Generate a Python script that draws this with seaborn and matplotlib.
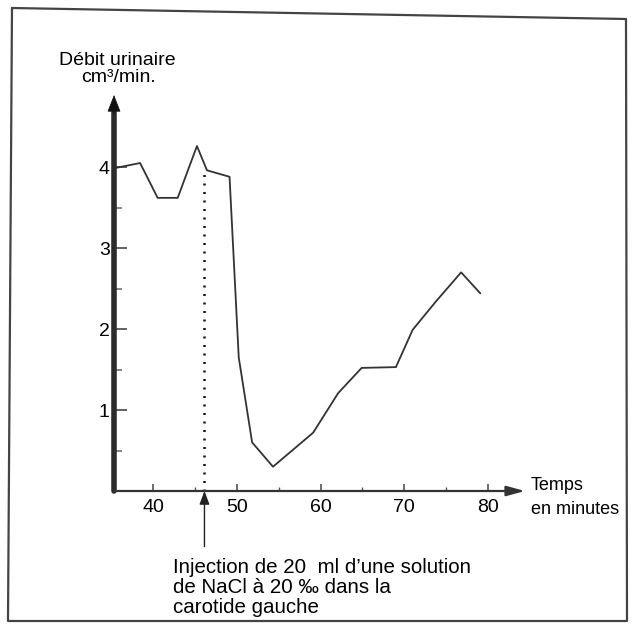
import matplotlib
matplotlib.use("Agg")
import matplotlib.pyplot as plt
import seaborn as sns
import pandas as pd
from matplotlib.lines import Line2D

# ---- data ----
time_min = [35.5, 38.4, 40.5, 42.9, 45.2, 46.4, 49.1, 50.2, 51.8, 54.3,
            59.1, 62.1, 64.9, 69.0, 71.0, 73.7, 76.8, 79.1]
flow = [3.99, 4.05, 3.62, 3.62, 4.26, 3.96, 3.88, 1.65, 0.60, 0.30,
        0.72, 1.21, 1.52, 1.53, 1.99, 2.33, 2.70, 2.44]
x_ticks = [40, 50, 60, 70, 80]
x_minor = [45, 55, 65, 75]
y_ticks = [1, 2, 3, 4]
y_minor = [0.5, 1.5, 2.5, 3.5]
injection_time = 46.1
injection_top = 3.96

y_title = ["Débit urinaire", "cm³/min."]
x_title = ["Temps", "en minutes"]
note = ["Injection de 20  ml d’une solution",
        "de NaCl à 20 ‰ dans la",
        "carotide gauche"]

sns.set_style("white")
plt.rcParams["font.family"] = ["Liberation Sans", "DejaVu Sans"]

W, H = 632, 625
fig = plt.figure(figsize=(W / 100, H / 100), dpi=100)
fig.patch.set_facecolor("white")

def fx(px):
    return px / W

def fy(py):
    return 1 - py / H

ax = fig.add_axes([fx(114), fy(491), fx(525) - fx(114), fy(95) - fy(491)])
ax.set_facecolor("none")

df = pd.DataFrame({"t": time_min, "q": flow})
sns.lineplot(data=df, x="t", y="q", ax=ax, color="#333333", lw=1.3,
             estimator=None, sort=False)

ax.set_xlim(35.28, 84.44)
ax.set_ylim(0, 4.89)
for s in ax.spines.values():
    s.set_visible(False)

# axes with arrows
ax.annotate("", xy=(0, 0.975), xycoords="axes fraction", xytext=(0, 0),
            arrowprops=dict(arrowstyle="-", lw=4, color="#2b2b2b",
                            shrinkA=0, shrinkB=0), annotation_clip=False)
ax.annotate("", xy=(0, 1), xycoords="axes fraction", xytext=(0, 0.95),
            arrowprops=dict(arrowstyle="-|>,head_length=1.1,head_width=0.43",
                            mutation_scale=10, lw=0.5, color="#111",
                            shrinkA=0, shrinkB=0), annotation_clip=False)
ax.annotate("", xy=(1, 0), xycoords="axes fraction", xytext=(0, 0),
            arrowprops=dict(arrowstyle="-|>,head_length=1.1,head_width=0.3",
                            mutation_scale=10, lw=1.6, color="#333",
                            shrinkA=0, shrinkB=0), annotation_clip=False)

ax.set_xticks(x_ticks)
ax.set_xticks(x_minor, minor=True)
ax.set_yticks(y_ticks)
ax.set_yticks(y_minor, minor=True)
ax.set_xticklabels([str(v) for v in x_ticks])
ax.set_yticklabels([str(v) for v in y_ticks])
ax.tick_params(which="both", left=True, bottom=True, top=False, right=False)
ax.tick_params(axis="x", which="major", direction="in", length=5, width=1.1,
               color="#444", pad=6, labelsize=14, labelcolor="#000")
ax.tick_params(axis="x", which="minor", direction="in", length=3, width=1.0,
               color="#555")
ax.tick_params(axis="y", which="major", direction="in", length=9, width=1.3,
               color="#555", pad=3, labelsize=14, labelcolor="#000")
ax.tick_params(axis="y", which="minor", direction="in", length=6, width=1.1,
               color="#666")
ax.set_xlabel("")
ax.set_ylabel("")

# injection marker
ax.plot([injection_time, injection_time], [0, injection_top], color="#111",
        lw=1.8, linestyle=(0, (0.8, 2.6)))
ax.annotate("", xy=(injection_time, 0), xycoords="data",
            xytext=(0, -40), textcoords="offset points",
            arrowprops=dict(arrowstyle="-|>,head_length=0.8,head_width=0.3",
                            mutation_scale=10, lw=1.0, color="#222",
                            shrinkA=0, shrinkB=0), annotation_clip=False)

# texts
fig.text(fx(117), fy(65), y_title[0], ha="center", va="baseline",
         fontsize=14, color="#000")
fig.text(fx(118), fy(82), y_title[1], ha="center", va="baseline",
         fontsize=14, color="#000")
fig.text(fx(531), fy(490), x_title[0], ha="left", va="baseline",
         fontsize=13, color="#000")
fig.text(fx(531), fy(514), x_title[1], ha="left", va="baseline",
         fontsize=13, color="#000")
for i, line in enumerate(note):
    fig.text(fx(173), fy(573 + 20 * i), line, ha="left", va="baseline",
             fontsize=14.8, color="#000")

# scanned page frame
fig.add_artist(Line2D([fx(12), fx(626), fx(627), fx(8), fx(12)],
                      [fy(8), fy(19), fy(621), fy(621), fy(8)],
                      transform=fig.transFigure, color="#444", lw=1.6))

fig.savefig("out.png", dpi=100, facecolor="white")
